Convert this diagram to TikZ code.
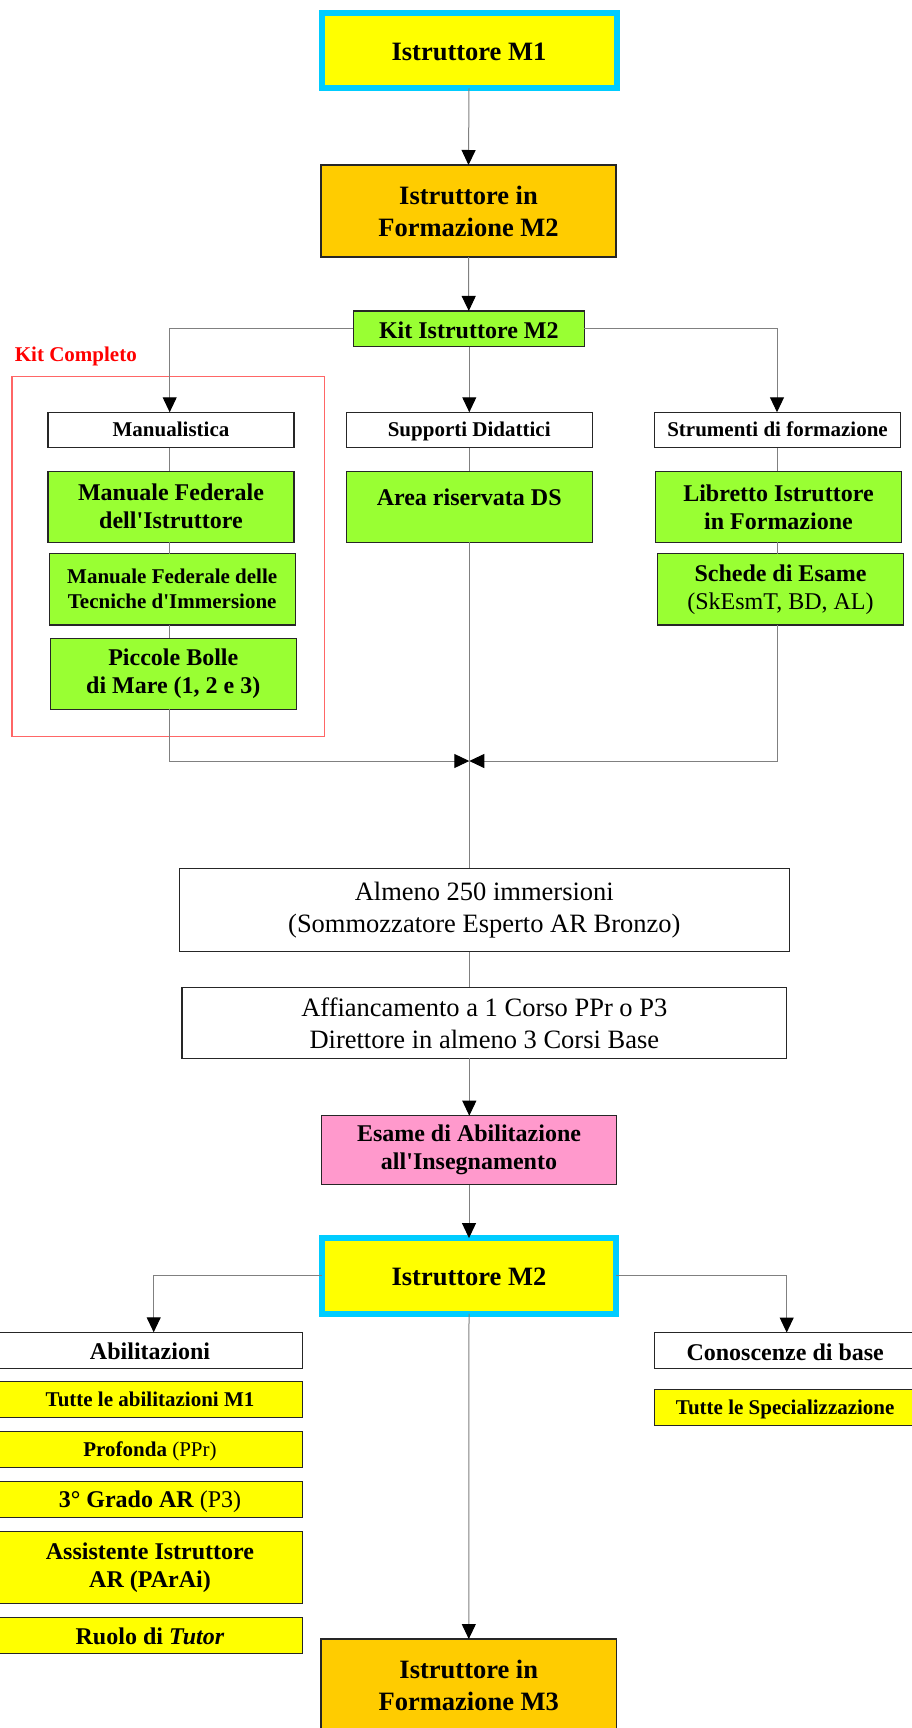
\documentclass[tikz,border=0pt]{standalone}
\usepackage{fontspec}
\setmainfont{Liberation Serif}[Ligatures=TeXOff]
\usetikzlibrary{arrows.meta,calc}
\definecolor{cyanB}{RGB}{0,204,255}
\definecolor{yel}{RGB}{255,255,0}
\definecolor{orng}{RGB}{255,204,0}
\definecolor{grn}{RGB}{153,255,51}
\definecolor{pnk}{RGB}{255,153,204}
\definecolor{redline}{RGB}{255,102,102}
\definecolor{conn}{RGB}{128,128,128}
\newcommand\szA{\fontsize{26.5bp}{32bp}\selectfont}
\newcommand\szB{\fontsize{24bp}{28bp}\selectfont}
\newcommand\szC{\fontsize{21bp}{25bp}\selectfont}
\tikzset{
  box/.style={draw=black!85, line width=1.2bp, inner sep=0pt, outer sep=0pt, align=center, font=\bfseries\szB},
  mainbox/.style={box, fill=yel, draw=cyanB, line width=6bp, minimum width=295bp, minimum height=75.5bp, font=\bfseries\szA},
  orbox/.style={box, fill=orng, minimum width=295bp, minimum height=92bp, font=\bfseries\szA},
  hdr/.style={box, fill=white, minimum width=246bp, minimum height=35.5bp, font=\bfseries\szC, text height=13.4bp, text depth=0bp},
  gbox/.style={box, fill=grn, minimum width=246bp, minimum height=71bp},
  ybox/.style={box, fill=yel, minimum width=305bp, minimum height=36bp},
  wbig/.style={box, fill=white, font=\szA},
  sl/.style={text height=#1, text depth=0bp},
  conn/.style={draw=conn, line width=1bp},
  arr/.style={conn, -{Triangle[length=15bp,width=14bp,color=black]}}
}
\begin{document}
\begin{tikzpicture}[x=1bp,y=-1bp]
\useasboundingbox (0,0) rectangle (911,1728);
% columns
\coordinate (colL) at (169.7,0);
\coordinate (colC) at (469.3,0);
\coordinate (colR) at (777,0);
\coordinate (colBL) at (153.7,0);
\coordinate (colBR) at (786.7,0);
\coordinate (merge) at (469.3,761);

% red kit frame
\node[draw=redline, line width=1.2bp, inner sep=0pt, outer sep=0pt, minimum width=312.3bp, minimum height=360bp] (kitframe) at (168.15,556.7) {};
\node[text=red, font=\bfseries\szC, anchor=base west, inner sep=0pt] (kitlabel) at (14.7,361) {Kit Completo};

% top chain
\node[mainbox, sl=19bp] (M1) at (469,50.5) {Istruttore M1};
\node[orbox] (M2f) at (468.5,211) {Istruttore in\\Formazione M2};
\node[box, fill=grn, minimum width=231bp, minimum height=35.7bp, sl=19bp] (kit) at (468.8,328.8) {Kit Istruttore M2};

% headers
\node[hdr] (man) at (171,430) {Manualistica};
\node[hdr] (sup) at (469.2,430) {Supporti Didattici};
\node[hdr] (str) at (777.5,430) {Strumenti di formazione};

% green items
\node[gbox] (mfi) at (171,506.8) {Manuale Federale\\dell'Istruttore};
\node[gbox, text height=16.5bp, text depth=18.7bp] (area) at (469.2,506.8) {Area riservata DS};
\node[gbox] (lib) at (778.5,506.8) {Libretto Istruttore\\in Formazione};
\node[gbox, minimum height=71.3bp, font=\bfseries\szC] (mft) at (172.2,589.3) {Manuale Federale delle\\Tecniche d'Immersione};
\node[gbox, minimum height=71.3bp] (sch) at (780.5,589.3) {Schede di Esame\\\textmd{(SkEsmT, BD, AL)}};
\node[gbox] (pic) at (173.3,673.8) {Piccole Bolle\\di Mare (1, 2 e 3)};

% requirements
\node[wbig, minimum width=610bp, minimum height=83.4bp] (alm) at (484.3,910) {Almeno 250 immersioni\\(Sommozzatore Esperto AR Bronzo)};
\node[wbig, minimum width=604.7bp, minimum height=71bp] (aff) at (484.3,1022.8) {Affiancamento a 1 Corso PPr o P3\\Direttore in almeno 3 Corsi Base};
\node[box, fill=pnk, minimum width=295.4bp, minimum height=69bp] (esa) at (469,1150.2) {Esame di Abilitazione\\all'Insegnamento};
\node[mainbox, minimum width=294bp, minimum height=75.7bp, sl=18.2bp] (M2) at (469,1275.9) {Istruttore M2};

% bottom
\node[ybox, fill=white, sl=18bp] (abi) at (150,1350.3) {Abilitazioni};
\node[ybox, font=\bfseries\szC, sl=14bp] (ab1) at (150,1399.7) {Tutte le abilitazioni M1};
\node[ybox, font=\bfseries\szC, sl=14bp] (ab2) at (150,1449.7) {Profonda \textmd{(PPr)}};
\node[ybox, sl=15.2bp] (ab3) at (150,1499.7) {3° Grado AR \textmd{(P3)}};
\node[ybox, minimum height=72bp] (ab4) at (150,1567.3) {Assistente Istruttore\\AR (PArAi)};
\node[ybox, minimum height=35.6bp, sl=17bp] (ab5) at (150,1635.5) {Ruolo di \textit{Tutor}};
\node[ybox, fill=white, minimum width=261.7bp, sl=19bp] (con) at (785.2,1350.5) {Conoscenze di base};
\node[ybox, minimum width=261.7bp, font=\bfseries\szC, sl=13.4bp] (spe) at (785.2,1407.3) {Tutte le Specializzazione};
\node[orbox, minimum width=295.7bp] (M3) at (468.8,1685) {Istruttore in\\Formazione M3};

% connectors
\draw[arr] (M1.south) -- (M2f.north);
\draw[arr] (M2f.south) -- (kit.north);
\draw[arr] (kit.west) -| (man.north -| colL);
\draw[arr] (kit.south -| colC) -- (sup.north -| colC);
\draw[arr] (kit.east) -| (str.north -| colR);
\draw[conn] (man.south -| colL) -- (mfi.north -| colL);
\draw[conn] (mfi.south -| colL) -- (mft.north -| colL);
\draw[conn] (mft.south -| colL) -- (pic.north -| colL);
\draw[conn] (sup.south -| colC) -- (area.north -| colC);
\draw[conn] (str.south -| colR) -- (lib.north -| colR);
\draw[conn] (lib.south -| colR) -- (sch.north -| colR);
\draw[arr] (pic.south -| colL) |- (merge);
\draw[arr] (sch.south -| colR) |- (merge);
\draw[conn] (area.south -| colC) -- (alm.north -| colC);
\draw[conn] (alm.south -| colC) -- (aff.north -| colC);
\draw[arr] (aff.south -| colC) -- (esa.north -| colC);
\draw[arr] (esa.south) -- (M2.north);
\draw[arr] (M2.west) -| (abi.north -| colBL);
\draw[arr] (M2.east) -| (con.north -| colBR);
\draw[arr] (M2.south) -- (M3.north);
\end{tikzpicture}
\end{document}
